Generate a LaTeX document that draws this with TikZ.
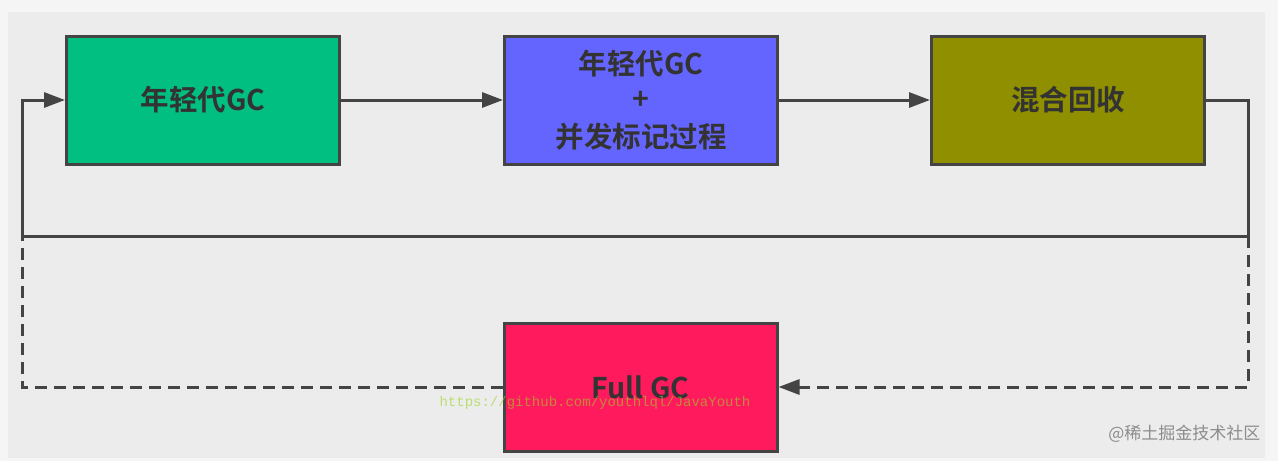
\documentclass[tikz,border=0pt]{standalone}
\usepackage{fontspec}
\usepackage{tikz}
\usepackage{xcolor}
\usetikzlibrary{arrows.meta}
\newfontfamily\cjk{Noto Sans CJK SC}[BoldFont={Noto Sans CJK SC Bold}]
\newfontfamily\monowm{Liberation Mono}
\definecolor{youngcol}{HTML}{00BF80}
\definecolor{conccol}{HTML}{6464FF}
\definecolor{mixedcol}{HTML}{8F8F00}
\definecolor{fullcol}{HTML}{FF1A5E}
\definecolor{linecol}{HTML}{444444}
\definecolor{textcol}{HTML}{333333}
\definecolor{outercol}{HTML}{F5F5F5}
\definecolor{innercol}{HTML}{ECECEC}
\tikzset{
  gcbox/.style={draw=linecol, line width=3pt, minimum width=273pt, minimum height=128pt,
    inner sep=0pt, text=textcol, align=center, font=\cjk\bfseries\fontsize{28.5}{38}\selectfont},
  flow/.style={draw=linecol, line width=3pt, -{Triangle[length=21pt,width=15pt]}},
  backflow/.style={flow, dash pattern=on 12pt off 7pt},
  backline/.style={draw=linecol, line width=3pt, dash pattern=on 12pt off 7pt}
}

\begin{document}
\begin{tikzpicture}[x=1pt,y=-1pt]
    \fill [outercol] (0,0) rectangle (1278,461);
    \fill [innercol] (8,12) rectangle (1265,458);
    \node [gcbox, fill=youngcol] (A) at (203,100) {\raisebox{-3pt}{年轻代GC}};
    \node [gcbox, fill=conccol] (B) at (641,100) {\raisebox{-3pt}{年轻代GC}\\+\\并发标记过程};
    \node [gcbox, fill=mixedcol] (C) at (1068,100) {\raisebox{-3pt}{混合回收}};
    \node [gcbox, fill=fullcol] (D) at (640.5,387) {Full GC};
    \coordinate (ne) at (1248,236);
    \coordinate (nw) at (22,236);
    \draw [flow] (A) to (B);
    \draw [flow] (B) to (C);
    \draw [flow] (C.east) -| (ne) -- (nw) |- (A.west);
    \draw [backflow] (ne) |- (D.east);
    \draw [backline] (D.west) -| (nw);
    \node [text=yellow!60!green, opacity=.6, font=\monowm\fontsize{14}{14}\selectfont] (wm) at (595,403) {https://github.com/youthlql/JavaYouth};
    \node [anchor=east, text=black!45, font=\cjk\fontsize{17}{17}\selectfont] (site) at (1264,434) {@稀土掘金技术社区};
\end{tikzpicture}
\end{document}
